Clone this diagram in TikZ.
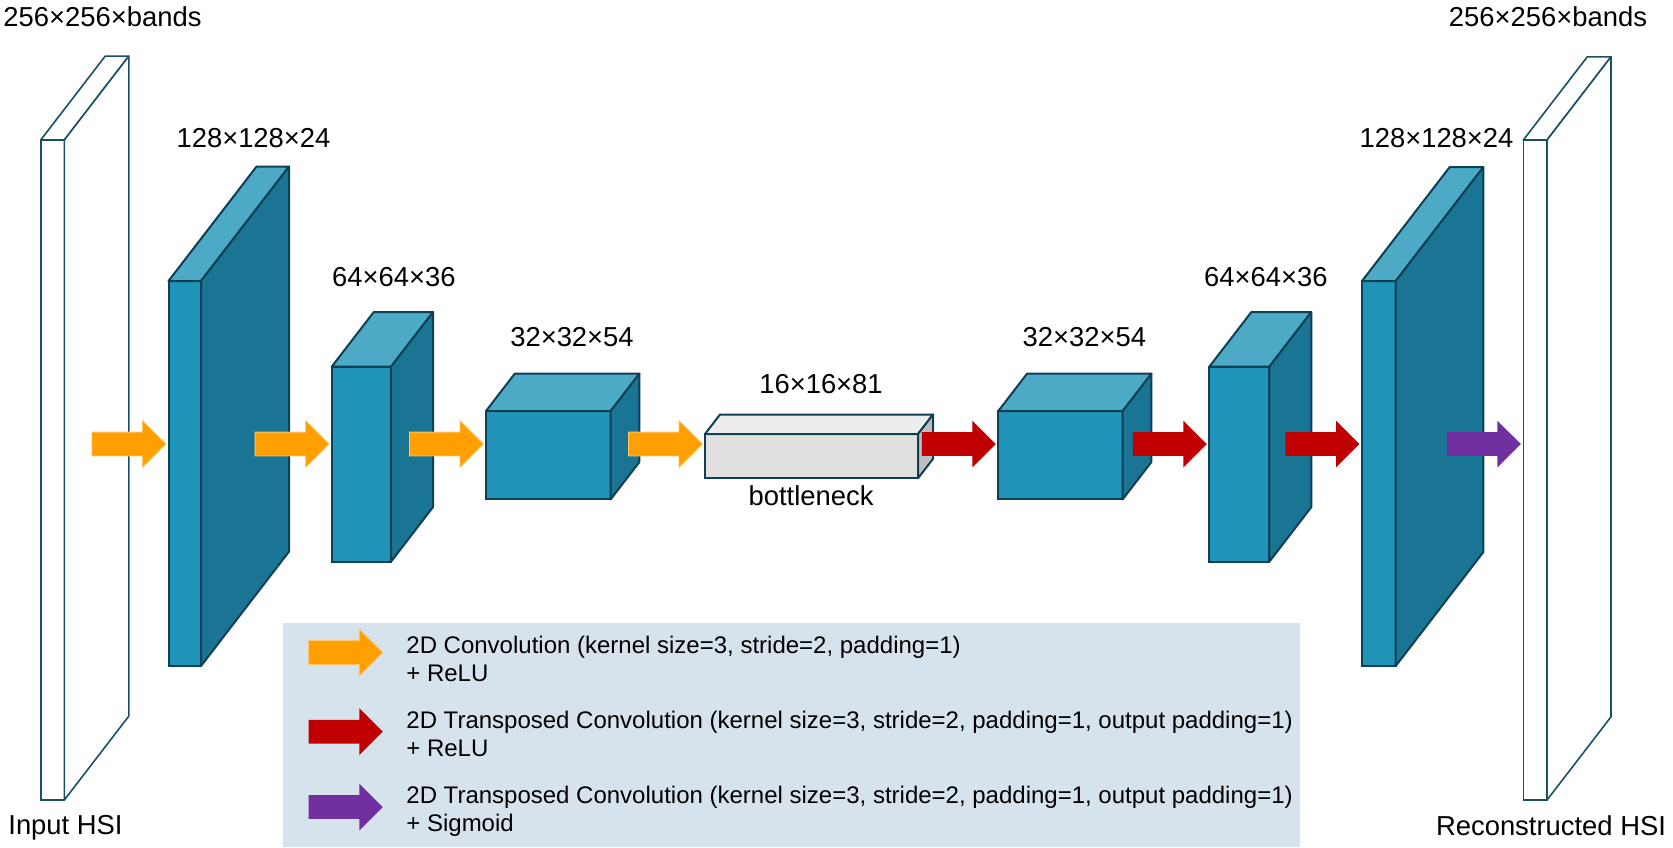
\documentclass[tikz,border=0pt]{standalone}
\usepackage{fontspec}
\setmainfont{Liberation Sans}
\usetikzlibrary{positioning}
\usetikzlibrary{shapes.arrows}

\definecolor{fmfront}{RGB}{32,147,184}
\definecolor{fmtop}{RGB}{77,170,198}
\definecolor{fmside}{RGB}{26,117,148}
\definecolor{fmline}{RGB}{13,64,84}
\definecolor{hsiline}{RGB}{27,79,99}
\definecolor{bnfront}{RGB}{224,224,224}
\definecolor{bntop}{RGB}{237,237,237}
\definecolor{bnside}{RGB}{190,190,190}
\definecolor{convcol}{RGB}{255,159,0}
\definecolor{tconvcol}{RGB}{192,0,0}
\definecolor{outcol}{RGB}{112,48,160}
\definecolor{legbg}{RGB}{214,227,236}

% feature map: name, look, x, y (front top left), width, height, depth
\newcommand{\fmap}[7]{%
  \node[#2front,minimum width={(#5)*0.5pt},minimum height={(#6)*0.5pt},anchor=north west] (#1) at (#3,#4) {};
  \draw[#2top]  (#1.north west) -- ++(#7,-1.3*#7) -- ++(#5,0) -- (#1.north east) -- cycle;
  \draw[#2side] (#1.north east) -- ++(#7,-1.3*#7) -- ++(0,#6) -- (#1.south east) -- cycle;
}

\begin{document}
\begin{tikzpicture}[x=0.5pt,y=-0.5pt,
  bluefront/.style={rectangle,draw=fmline,fill=fmfront,line width=1pt,inner sep=0pt,outer sep=0pt},
  bluetop/.style={draw=fmline,fill=fmtop,line width=1pt,line join=round},
  blueside/.style={draw=fmline,fill=fmside,line width=1pt,line join=round},
  hsifront/.style={rectangle,draw=hsiline,fill=white,line width=0.8pt,inner sep=0pt,outer sep=0pt},
  hsitop/.style={draw=hsiline,fill=white,line width=0.8pt,line join=round},
  hsiside/.style={draw=hsiline,fill=white,line width=0.8pt,line join=round},
  greyfront/.style={rectangle,draw=fmline,fill=bnfront,line width=1pt,inner sep=0pt,outer sep=0pt},
  greytop/.style={draw=fmline,fill=bntop,line width=1pt,line join=round},
  greyside/.style={draw=fmline,fill=bnside,line width=1pt,line join=round},
  fatarrow/.style={single arrow,minimum height=37pt,inner xsep=0pt,inner ysep=5.75pt,
    single arrow head extend=5.75pt,anchor=tip,xshift=-1pt},
  conv/.style={fatarrow,fill=convcol,draw=convcol!60!white,line width=0.4pt},
  tconv/.style={fatarrow,fill=tconvcol},
  outconv/.style={fatarrow,fill=outcol},
  dimlabel/.style={font=\fontsize{13.7}{16}\selectfont,anchor=base,inner sep=0pt},
  legtext/.style={font=\fontsize{12}{14.2}\selectfont,align=left,anchor=base west,inner sep=0pt}]
\useasboundingbox (0,0) rectangle (1673,847);

% encoder
\fmap{hsiin}{hsi}{40.7}{140}{23.6}{660}{64.5}
\fmap{e1}{blue}{168.5}{281}{32.5}{385}{88}
\fmap{e2}{blue}{331.7}{366.7}{59.3}{195}{42}
\fmap{e3}{blue}{486}{411}{124.7}{88.3}{28.7}
\fmap{bn}{grey}{705}{434}{213}{44.3}{15}
% decoder
\fmap{d3}{blue}{998.3}{411}{124.4}{88.3}{28.7}
\fmap{d2}{blue}{1209.3}{366.7}{60}{195}{42}
\fmap{d1}{blue}{1362}{281}{33.7}{385}{87.6}
\fmap{hsiout}{hsi}{1523.3}{140}{23.7}{660}{64}

\coordinate (axis) at (0,444);
\node[conv]    (c1) at (e1.west |- axis) {};
\node[conv]    (c2) at (e2.west |- axis) {};
\node[conv]    (c3) at (e3.west |- axis) {};
\node[conv]    (c4) at (bn.west |- axis) {};
\node[tconv]   (t3) at (d3.west |- axis) {};
\node[tconv]   (t2) at (d2.west |- axis) {};
\node[tconv]   (t1) at (d1.west |- axis) {};
\node[outconv] (o1) at (hsiout.west |- axis) {};

\node[dimlabel] (s0) at (102.5,26)   {256×256×bands};
\node[dimlabel] (s1) at (253.5,147)  {128×128×24};
\node[dimlabel] (s2) at (393.8,286.6) {64×64×36};
\node[dimlabel] (s3) at (572,346.7)  {32×32×54};
\node[dimlabel] (s4) at (821,393)    {16×16×81};
\node[dimlabel] (bnl) at (811,505)   {bottleneck};
\node[dimlabel] (r3) at (1084.3,346.7) {32×32×54};
\node[dimlabel] (r2) at (1265.8,286.6) {64×64×36};
\node[dimlabel] (r1) at (1436.5,147) {128×128×24};
\node[dimlabel] (r0) at (1548,26)    {256×256×bands};
\node[dimlabel] (inl) at (65.5,834.3) {Input HSI};
\node[dimlabel] (outl) at (1551,835) {Reconstructed HSI};

% legend
\fill[legbg] (283,623) rectangle (1300,847);
\node[conv]    (lc) at (385.3,652.5) {};
\node[tconv]   (lt) at (385.3,731.7) {};
\node[outconv] (lo) at (385.3,807) {};
\node[legtext] (lct) at (406,681.7) {2D Convolution (kernel size=3, stride=2, padding=1)\\+ ReLU};
\node[legtext] (ltt) at (406,756.7) {2D Transposed Convolution (kernel size=3, stride=2, padding=1, output padding=1)\\+ ReLU};
\node[legtext] (lot) at (406,831.7) {2D Transposed Convolution (kernel size=3, stride=2, padding=1, output padding=1)\\+ Sigmoid};
\end{tikzpicture}
\end{document}
